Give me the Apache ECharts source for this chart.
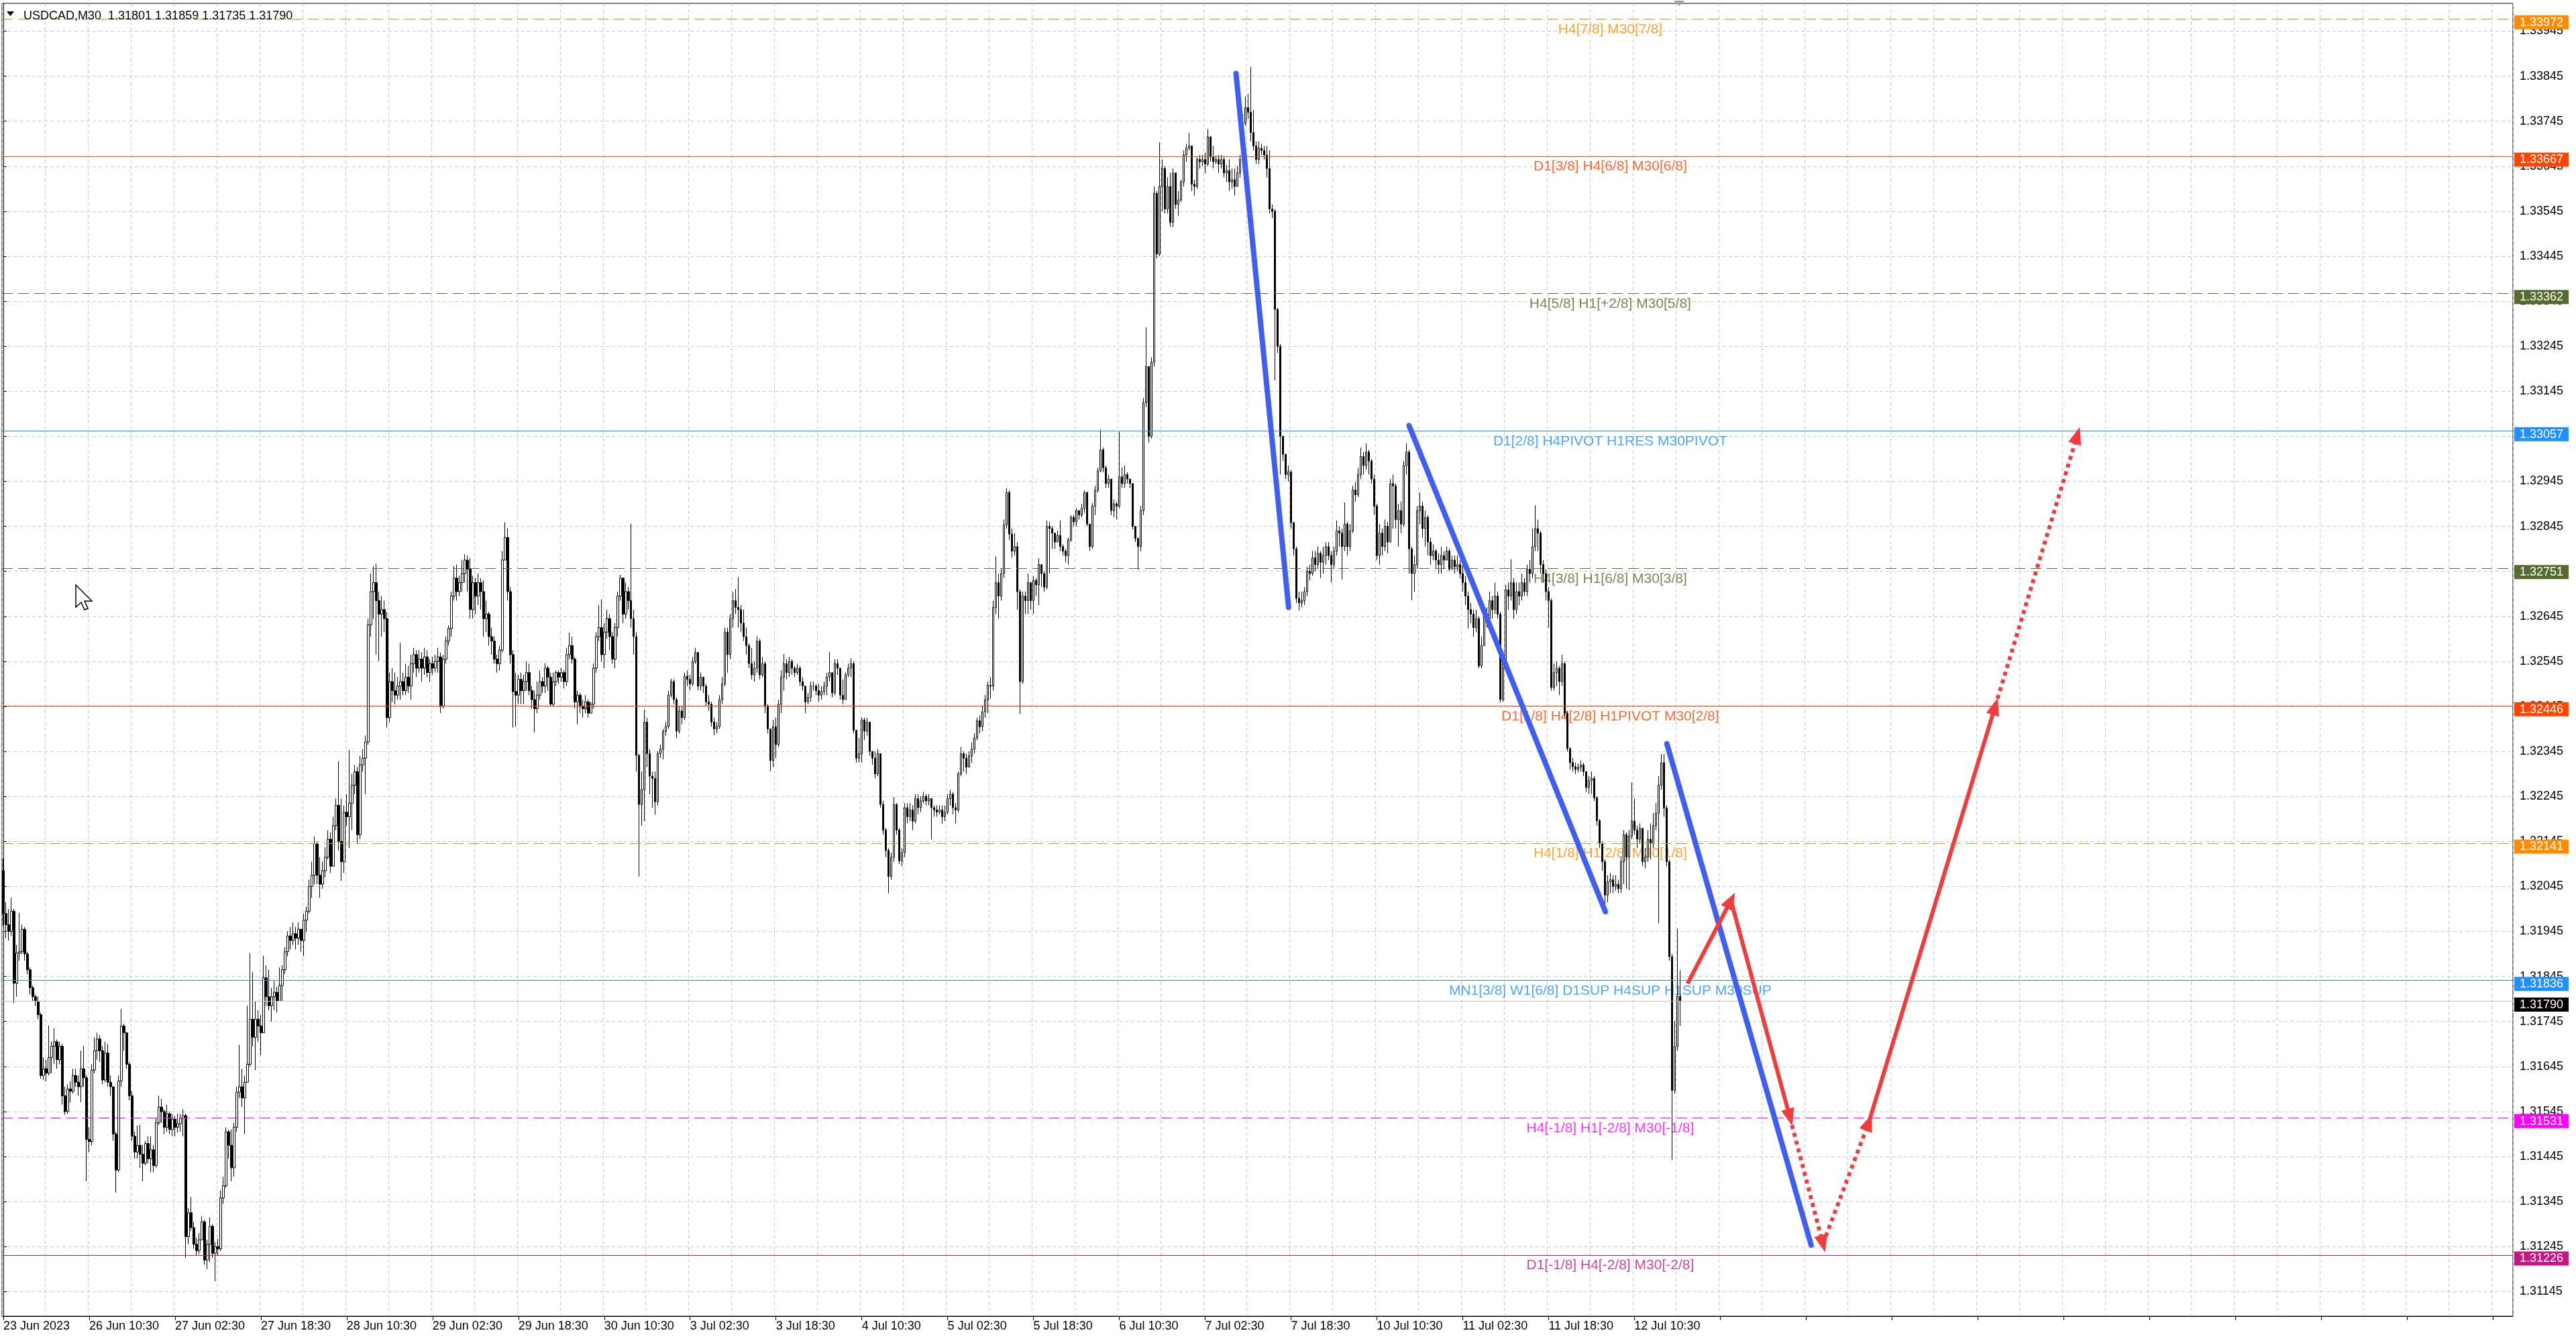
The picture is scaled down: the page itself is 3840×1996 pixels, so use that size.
<!DOCTYPE html>
<html><head><meta charset="utf-8">
<script src="https://cdn.jsdelivr.net/npm/echarts@6/dist/echarts.min.js"></script>
<style>html,body{margin:0;padding:0;background:#fff}#c{width:3840px;height:1996px}</style>
</head><body><div id="c"></div><script>
// ---------------- data ----------------
const symbolName = 'USDCAD';
const timeframe = 'M30';
// x tick labels, one every 32 bars starting at bar 0
const tickLabels = ['23 Jun 2023','26 Jun 10:30','27 Jun 02:30','27 Jun 18:30','28 Jun 10:30','29 Jun 02:30','29 Jun 18:30','30 Jun 10:30','3 Jul 02:30','3 Jul 18:30','4 Jul 10:30','5 Jul 02:30','5 Jul 18:30','6 Jul 10:30','7 Jul 02:30','7 Jul 18:30','10 Jul 10:30','11 Jul 02:30','11 Jul 18:30','12 Jul 10:30'];
// y tick labels
const priceTicks = [1.31145,1.31245,1.31345,1.31445,1.31545,1.31645,1.31745,1.31845,1.31945,1.32045,1.32145,1.32245,1.32345,1.32445,1.32545,1.32645,1.32745,1.32845,1.32945,1.33045,1.33145,1.33245,1.33345,1.33445,1.33545,1.33645,1.33745,1.33845,1.33945];
// prices in points (1e-5) above 1.30000
const firstOpenPts = 2080;
const closePts = [
1985,1960,1945,1990,1830,1897,1900,1950,1895,1860,
1820,1800,1790,1760,1625,1640,1630,1665,1690,1700,
1660,1690,1580,1545,1595,1590,1625,1610,1600,1640,
1620,1483,1478,1637,1680,1706,1680,1615,1675,1610,
1600,1495,1415,1613,1735,1720,1650,1580,1490,1455,
1470,1450,1430,1474,1440,1460,1425,1520,1555,1545,
1510,1540,1505,1528,1510,1518,1530,1536,1267,1320,
1287,1250,1236,1260,1300,1215,1250,1290,1230,1245,
1240,1353,1380,1500,1470,1420,1510,1588,1600,1575,
1610,1650,1750,1710,1750,1735,1720,1842,1800,1780,
1800,1810,1790,1825,1860,1900,1935,1925,1940,1930,
1950,1925,1970,1990,2045,2070,2140,2070,2050,2080,
2110,2150,2090,2180,2225,2145,2100,2210,2200,2230,
2270,2300,2160,2315,2330,2366,2626,2700,2720,2680,
2650,2660,2640,2420,2500,2480,2470,2490,2500,2480,
2510,2490,2540,2560,2530,2550,2530,2555,2520,2540,
2530,2545,2555,2445,2550,2590,2618,2690,2730,2700,
2720,2740,2770,2750,2660,2720,2690,2720,2700,2640,
2650,2600,2590,2550,2540,2570,2770,2820,2700,2560,
2478,2470,2505,2480,2500,2520,2480,2460,2440,2470,
2500,2490,2530,2510,2450,2500,2520,2510,2520,2500,
2560,2580,2550,2455,2470,2445,2440,2455,2430,2450,
2530,2600,2620,2560,2610,2640,2600,2550,2620,2690,
2730,2650,2700,2680,2640,2600,2336,2227,2260,2410,
2340,2290,2285,2233,2340,2350,2390,2400,2470,2500,
2460,2390,2435,2420,2512,2505,2495,2545,2565,2490,
2510,2490,2455,2450,2410,2395,2400,2460,2495,2610,
2560,2640,2680,2665,2660,2630,2600,2580,2540,2515,
2530,2590,2515,2540,2445,2395,2325,2400,2360,2450,
2510,2540,2520,2545,2530,2520,2530,2500,2490,2455,
2465,2490,2490,2480,2470,2478,2490,2510,2520,2475,
2540,2530,2470,2460,2515,2530,2540,2392,2330,2340,
2415,2390,2410,2345,2330,2295,2340,2227,2170,2125,
2067,2110,2227,2170,2102,2120,2220,2200,2215,2190,
2240,2220,2235,2245,2235,2240,2220,2215,2210,2215,
2200,2210,2240,2250,2220,2215,2295,2340,2330,2310,
2335,2350,2375,2413,2400,2433,2460,2492,2490,2665,
2720,2690,2740,2848,2920,2828,2790,2800,2700,2500,
2690,2680,2720,2680,2725,2715,2760,2740,2710,2845,
2840,2830,2810,2825,2800,2790,2780,2815,2865,2855,
2880,2870,2885,2920,2850,2800,2890,2925,2968,3015,
2975,2940,2950,2880,2895,2890,2955,2940,2960,2950,
2940,2845,2818,2800,2880,3120,3200,3045,3210,3585,
3450,3600,3640,3550,3600,3520,3630,3560,3570,3610,
3670,3685,3690,3605,3600,3660,3655,3660,3650,3710,
3665,3655,3660,3650,3660,3630,3635,3610,3615,3600,
3630,3660,3740,3775,3765,3720,3690,3660,3685,3680,
3670,3640,3550,3545,3327,3245,3045,3005,2960,2966,
2853,2795,2685,2675,2680,2700,2745,2740,2775,2760,
2785,2765,2780,2800,2780,2760,2790,2835,2830,2800,
2850,2800,2835,2926,2915,2960,3000,2980,3010,2990,
2950,2890,2780,2830,2800,2845,2810,2940,2935,2860,
2880,2850,2980,3010,2795,2740,2760,2880,2890,2840,
2865,2810,2780,2790,2770,2760,2780,2770,2790,2750,
2770,2755,2760,2740,2720,2690,2660,2650,2620,2640,
2535,2580,2650,2640,2680,2660,2690,2650,2460,2550,
2704,2690,2720,2660,2700,2690,2720,2700,2750,2740,
2800,2840,2830,2760,2740,2700,2680,2487,2520,2530,
2500,2540,2430,2351,2320,2311,2305,2310,2315,2300,
2265,2280,2285,2242,2191,2140,2100,2026,2055,2060,
2045,2050,2040,2100,2160,2110,2157,2190,2170,2150,
2174,2100,2110,2150,2140,2180,2208,2270,2320,2219,
2100,1889,1592,1689,1801,1790];
const highPts = [
2107,2010,1995,2020,1995,1915,1986,1960,1955,1900,
1865,1825,1805,1800,1765,1665,1660,1736,1700,1730,
1705,1700,1695,1600,1605,1612,1640,1640,1625,1680,
1690,1626,1510,1650,1710,1720,1715,1690,1700,1695,
1625,1600,1500,1625,1773,1740,1720,1655,1590,1500,
1514,1515,1470,1480,1490,1490,1470,1530,1580,1573,
1550,1560,1545,1540,1535,1540,1540,1550,1540,1330,
1355,1300,1265,1275,1312,1305,1260,1310,1295,1255,
1262,1370,1400,1510,1505,1505,1520,1600,1693,1640,
1625,1780,1897,1855,1790,1770,1760,1891,1870,1860,
1820,1835,1822,1865,1870,1910,1945,1955,1965,1955,
1965,1950,1985,2000,2060,2100,2156,2145,2110,2100,
2132,2170,2165,2200,2240,2323,2240,2225,2250,2348,
2295,2315,2310,2335,2350,2380,2640,2740,2756,2762,
2700,2690,2680,2655,2520,2530,2520,2510,2586,2520,
2540,2535,2560,2575,2570,2570,2565,2575,2570,2550,
2555,2560,2575,2565,2560,2600,2625,2700,2757,2760,
2735,2770,2783,2780,2775,2735,2730,2740,2730,2725,
2680,2655,2620,2600,2560,2580,2790,2854,2840,2710,
2570,2520,2515,2520,2515,2545,2540,2490,2480,2500,
2525,2510,2541,2535,2520,2520,2525,2525,2530,2525,
2575,2609,2600,2555,2480,2475,2460,2470,2460,2455,
2540,2610,2670,2683,2630,2660,2650,2610,2630,2700,
2738,2730,2720,2710,2851,2660,2610,2340,2300,2438,
2420,2350,2300,2300,2345,2360,2395,2410,2480,2506,
2505,2465,2445,2445,2520,2525,2515,2555,2575,2565,
2520,2510,2495,2470,2455,2420,2410,2470,2510,2620,
2620,2650,2700,2706,2732,2670,2660,2620,2585,2575,
2545,2600,2595,2555,2545,2450,2395,2415,2420,2460,
2525,2561,2550,2555,2550,2535,2540,2535,2510,2490,
2475,2500,2500,2495,2495,2490,2500,2520,2566,2520,
2550,2550,2530,2505,2520,2540,2552,2545,2392,2375,
2420,2420,2420,2410,2345,2345,2350,2340,2235,2175,
2130,2120,2244,2230,2175,2130,2230,2230,2230,2225,
2250,2250,2245,2255,2250,2250,2240,2225,2225,2225,
2225,2225,2250,2260,2255,2230,2300,2355,2345,2340,
2345,2365,2385,2420,2425,2445,2470,2500,2510,2680,
2778,2740,2750,2860,2930,2925,2840,2830,2810,2705,
2700,2700,2740,2720,2735,2730,2774,2760,2745,2858,
2855,2845,2830,2835,2858,2805,2795,2820,2870,2870,
2885,2880,2895,2925,2922,2850,2897,2935,2975,3060,
3020,2980,2960,2950,2905,2900,3055,2976,2980,2965,
2950,2940,2845,2820,2890,3130,3287,3200,3220,3600,
3590,3698,3660,3645,3620,3630,3640,3630,3590,3615,
3680,3695,3719,3690,3615,3665,3670,3670,3675,3727,
3712,3690,3668,3670,3670,3665,3648,3660,3640,3640,
3645,3670,3760,3800,3806,3866,3770,3700,3700,3695,
3690,3690,3680,3560,3550,3330,3250,3045,3006,2980,
2970,2855,2800,2700,2700,2710,2755,2760,2790,2790,
2800,2790,2800,2810,2810,2790,2800,2858,2845,2840,
2898,2855,2850,2935,2943,2975,3020,3010,3029,3015,
2995,2960,2895,2850,2840,2860,2855,2950,2960,2940,
2895,2900,2990,3029,3015,2800,2780,2890,2920,2900,
2880,2870,2820,2805,2795,2785,2800,2790,2800,2795,
2780,2780,2780,2770,2760,2735,2700,2675,2660,2660,
2645,2600,2660,2665,2700,2690,2720,2700,2655,2560,
2715,2720,2772,2730,2720,2720,2740,2730,2760,2770,
2840,2892,2860,2835,2770,2750,2710,2685,2540,2545,
2535,2560,2545,2435,2355,2330,2320,2318,2325,2320,
2300,2290,2300,2290,2245,2195,2145,2105,2070,2075,
2070,2070,2060,2110,2170,2165,2170,2276,2240,2180,
2185,2175,2130,2170,2185,2208,2230,2290,2339,2339,
2225,2105,1895,1746,1951,1859];
const lowPts = [
1959,1930,1925,1935,1786,1800,1880,1895,1880,1850,
1805,1790,1780,1750,1618,1615,1612,1625,1630,1650,
1640,1650,1560,1538,1540,1565,1585,1600,1580,1566,
1600,1390,1455,1470,1630,1660,1655,1605,1610,1600,
1580,1480,1365,1410,1600,1680,1640,1570,1480,1440,
1440,1420,1390,1425,1430,1410,1410,1420,1515,1520,
1495,1500,1495,1490,1490,1498,1500,1490,1220,1250,
1280,1240,1226,1228,1260,1205,1195,1210,1220,1168,
1225,1235,1340,1375,1440,1390,1400,1500,1575,1555,
1495,1610,1645,1690,1637,1700,1670,1760,1780,1770,
1745,1770,1765,1790,1790,1850,1890,1905,1915,1905,
1915,1900,1890,1945,1985,2020,2050,2050,2020,2040,
2065,2105,2075,2090,2170,2125,2057,2075,2180,2130,
2170,2250,2140,2150,2300,2250,2360,2600,2640,2560,
2546,2600,2610,2398,2410,2455,2450,2460,2460,2470,
2470,2475,2460,2520,2510,2520,2500,2515,2510,2500,
2515,2520,2520,2430,2440,2540,2580,2600,2680,2680,
2690,2700,2720,2700,2640,2640,2650,2670,2660,2600,
2610,2580,2560,2540,2520,2524,2565,2770,2680,2540,
2398,2400,2450,2450,2450,2480,2470,2440,2387,2430,
2460,2475,2475,2480,2445,2445,2490,2495,2500,2485,
2490,2550,2540,2440,2405,2430,2420,2430,2420,2430,
2440,2520,2590,2545,2530,2595,2570,2540,2530,2600,
2680,2630,2640,2660,2620,2560,2300,2067,2180,2190,
2310,2250,2220,2204,2225,2330,2327,2380,2395,2465,
2450,2375,2385,2405,2415,2490,2480,2490,2540,2480,
2480,2475,2445,2435,2400,2381,2385,2395,2450,2490,
2520,2550,2620,2650,2620,2610,2590,2560,2530,2505,
2500,2520,2505,2510,2430,2385,2301,2310,2330,2355,
2430,2480,2505,2510,2515,2510,2515,2490,2480,2430,
2450,2455,2480,2470,2455,2460,2470,2470,2500,2465,
2470,2515,2460,2450,2480,2510,2510,2385,2320,2320,
2320,2370,2380,2335,2315,2285,2290,2220,2160,2110,
2030,2060,2100,2160,2095,2090,2110,2185,2190,2170,
2185,2205,2210,2230,2225,2225,2150,2200,2200,2205,
2185,2190,2205,2225,2205,2185,2210,2290,2300,2295,
2310,2320,2340,2370,2385,2390,2420,2430,2462,2480,
2650,2640,2680,2730,2840,2815,2775,2780,2660,2428,
2495,2650,2650,2660,2650,2690,2670,2710,2700,2705,
2740,2795,2795,2810,2790,2780,2765,2760,2810,2845,
2845,2860,2865,2875,2845,2790,2795,2870,2920,2965,
2965,2930,2930,2870,2865,2860,2885,2930,2930,2940,
2930,2838,2810,2749,2790,2870,3110,3031,3040,3200,
3440,3445,3545,3540,3540,3510,3510,3550,3535,3565,
3600,3655,3680,3590,3580,3595,3640,3645,3630,3645,
3655,3640,3650,3630,3640,3620,3610,3590,3595,3580,
3600,3620,3650,3735,3750,3700,3680,3650,3650,3670,
3660,3620,3540,3530,3169,3230,2960,2990,2950,2945,
2840,2780,2675,2658,2665,2670,2690,2725,2735,2745,
2750,2730,2740,2760,2770,2720,2750,2780,2800,2727,
2790,2780,2790,2830,2900,2910,2950,2960,2970,2960,
2940,2870,2770,2760,2780,2790,2785,2810,2840,2840,
2800,2830,2845,2960,2740,2681,2700,2750,2850,2820,
2800,2780,2760,2770,2750,2740,2740,2750,2770,2745,
2750,2740,2745,2730,2700,2670,2618,2630,2600,2610,
2530,2530,2580,2620,2630,2640,2650,2640,2453,2455,
2545,2660,2680,2640,2650,2670,2680,2690,2690,2720,
2730,2790,2790,2740,2720,2680,2620,2480,2480,2490,
2470,2490,2420,2345,2305,2300,2295,2298,2300,2290,
2255,2250,2250,2235,2180,2130,2080,1997,2010,2030,
2030,2035,2030,2030,2050,2040,2037,2150,2160,2130,
2140,2090,2085,2100,2105,2130,2170,1963,2260,2200,
2090,1880,1438,1585,1680,1735];
const futureSlots = 310;
// Murrey levels
const levelValues = [1.33972,1.33667,1.33362,1.33057,1.32751,1.32446,1.32141,1.31836,1.31531,1.31226];
const levelTexts = ['H4[7/8] M30[7/8]','D1[3/8] H4[6/8] M30[6/8]','H4[5/8] H1[+2/8] M30[5/8]','D1[2/8] H4PIVOT H1RES M30PIVOT','H4[3/8] H1[6/8] M30[3/8]','D1[1/8] H4[2/8] H1PIVOT M30[2/8]','H4[1/8] H1[2/8] M30[1/8]','MN1[3/8] W1[6/8] D1SUP H4SUP H1SUP M30SUP','H4[-1/8] H1[-2/8] M30[-1/8]','D1[-1/8] H4[-2/8] M30[-2/8]'];
const levelLabelBar = 599;
// drawn trend lines (bar index, price)
const bluePaths = [[[459.5,1.33851],[479.1,1.32665]],[[524.0,1.33069],[597.2,1.31989]],[[620.1,1.32362],[673.9,1.31248]]];
const redPath = [[627.8,1.31829],[644.0,1.32014],[666.0,1.31532],[678.3,1.31251],[695.4,1.31521],[742.5,1.32445],[773.1,1.33047]];
const redDotted = [false,false,true,true,false,true];

// ---------------- styles ----------------
const SANS = '"Liberation Sans",Arial,sans-serif';
const levelStyle = [
  {color:'#FF8C00', type:[16,8]},
  {color:'#FF4500', type:'solid'},
  {color:'#556B2F', type:[16,8]},
  {color:'#1E90FF', type:'solid'},
  {color:'#556B2F', type:[16,8]},
  {color:'#FF4500', type:'solid'},
  {color:'#FF8C00', type:[16,8]},
  {color:'#1E90FF', type:'solid'},
  {color:'#FF00FF', type:[16,8]},
  {color:'#C71585', type:'solid'}
];
const BLUE = '#3F5EF3', RED = '#F23B3B';

// ---------------- build ----------------
const P = v => 1.3 + v / 100000;
const N = closePts.length;
const total = N + futureSlots;
const xMin = -0.5, xMax = total - 0.5;
const cats = Array.from({length: total}, (_, i) => 'b' + i);
const labelAt = {};
tickLabels.forEach((t, k) => { labelAt[k * 32] = t; });
const candles = closePts.map((c, i) => {
  const o = i === 0 ? firstOpenPts : closePts[i - 1];
  const h = Math.max(highPts[i], o, c), l = Math.min(lowPts[i], o, c);
  return [P(o), P(c), P(l), P(h)];
});
const last = candles[N - 1];
const headerText = symbolName + ',' + timeframe + '  ' + [last[0], last[3], last[2], last[1]].map(v => v.toFixed(5)).join(' ');

// price box on the right axis, nudged slightly below its line like the terminal does
function boxLabel(text, bg) {
  return {show: true, position: 'end', distance: 2, formatter: '{s| }\n{b|' + text + '}',
          rich: {
            s: {fontSize: 8, lineHeight: 10, height: 10},
            b: {color: '#fff', backgroundColor: bg, padding: [2, 8, 1, 8], fontSize: 18, lineHeight: 21, fontFamily: SANS}
          }};
}
const levelLines = levelValues.map((v, k) => ([
  {coord: [xMin, v], lineStyle: {color: levelStyle[k].color, type: levelStyle[k].type, width: 1.2},
   label: boxLabel(v.toFixed(5), levelStyle[k].color)},
  {coord: [xMax, v]}
]));
levelLines.push([
  {coord: [xMin, last[1]], lineStyle: {color: '#C0C0C0', type: 'solid', width: 1},
   label: boxLabel(last[1].toFixed(5), '#000')},
  {coord: [xMax, last[1]]}
]);

const drawLines = [];
bluePaths.forEach(seg => {
  drawLines.push([
    {coord: seg[0], symbol: 'none', lineStyle: {color: BLUE, width: 8, type: 'solid', cap: 'round'}},
    {coord: seg[1], symbol: 'none'}
  ]);
});
for (let k = 0; k < redPath.length - 1; k++) {
  drawLines.push([
    {coord: redPath[k], symbol: 'none', lineStyle: {color: RED, width: 6, type: redDotted[k] ? [6, 6] : 'solid'}},
    {coord: redPath[k + 1], symbol: 'triangle', symbolSize: [20, 26], itemStyle: {color: RED}}
  ]);
}

const option = {
  animation: false,
  backgroundColor: '#fff',
  title: {text: headerText, left: 30, top: 10,
          textStyle: {fontFamily: SANS, fontSize: 18, fontWeight: 'normal', color: '#000'}},
  grid: {left: 3, right: 94, top: 5, bottom: 34, show: true, borderColor: '#000', borderWidth: 1, backgroundColor: '#fff'},
  xAxis: [{
    type: 'category', data: cats, boundaryGap: true,
    axisLine: {lineStyle: {color: '#000', width: 1}},
    axisTick: {show: true, interval: 31, alignWithLabel: true, length: 6, lineStyle: {color: '#000'}},
    axisLabel: {interval: 31, formatter: (v, i) => labelAt[i] || '', align: 'left', margin: 6,
                color: '#000', fontSize: 18, fontFamily: SANS},
    splitLine: {show: true, interval: 15, lineStyle: {color: '#C8C8C8', type: [5, 4], width: 1}}
  }, {
    type: 'value', min: xMin, max: xMax, show: false, gridIndex: 0
  }],
  yAxis: [{
    type: 'value', position: 'right', min: 1.310903, max: 1.340068, scale: true,
    axisLine: {show: true, lineStyle: {color: '#000', width: 1}},
    axisTick: {show: true, length: 5, customValues: priceTicks, lineStyle: {color: '#000'}},
    axisLabel: {customValues: priceTicks, formatter: v => v.toFixed(5), margin: 10,
                color: '#000', fontSize: 18, fontFamily: SANS},
    splitLine: {show: true, lineStyle: {color: '#C8C8C8', type: [5, 4], width: 1}}
  }],
  series: [{
    type: 'scatter', xAxisIndex: 1, yAxisIndex: 0, z: 1, silent: true,
    symbolSize: 0,
    data: levelValues.map((v, k) => ({value: [levelLabelBar, v],
      label: {color: levelStyle[k].color}})),
    label: {show: true, position: 'bottom', distance: 5, fontSize: 21, fontFamily: SANS,
            formatter: p => levelTexts[p.dataIndex]},
    markLine: {silent: true, symbol: ['none', 'none'], data: levelLines, animation: false}
  }, {
    type: 'candlestick', xAxisIndex: 0, yAxisIndex: 0, z: 3, silent: true,
    large: false, progressive: 0,
    barWidth: 3,
    itemStyle: {color: '#fff', color0: '#000', borderColor: '#000', borderColor0: '#000', borderWidth: 1},
    data: candles
  }, {
    type: 'scatter', xAxisIndex: 1, yAxisIndex: 0, z: 10, silent: true,
    symbolSize: 0,
    data: redPath,
    markLine: {silent: true, symbol: ['none', 'none'], label: {show: false}, data: drawLines, animation: false}
  }],
  graphic: [
    {type: 'polygon', shape: {points: [[10, 17], [21, 17], [15.5, 24]]}, style: {fill: '#000'}, z: 100},
    {type: 'polygon', shape: {points: [[2495, 1], [2511, 1], [2503, 9]]}, style: {fill: '#A0A0A0'}, z: 100},
    {type: 'polygon', shape: {points: [[113, 872], [113, 905], [121, 898], [126, 909], [131, 907], [126, 896], [137, 896]]},
     style: {fill: '#fff', stroke: '#000', lineWidth: 1.5}, z: 100}
  ]
};
const chart = echarts.init(document.getElementById('c'), null, {renderer: 'canvas', width: 3840, height: 1996});
chart.setOption(option);
</script></body></html>
